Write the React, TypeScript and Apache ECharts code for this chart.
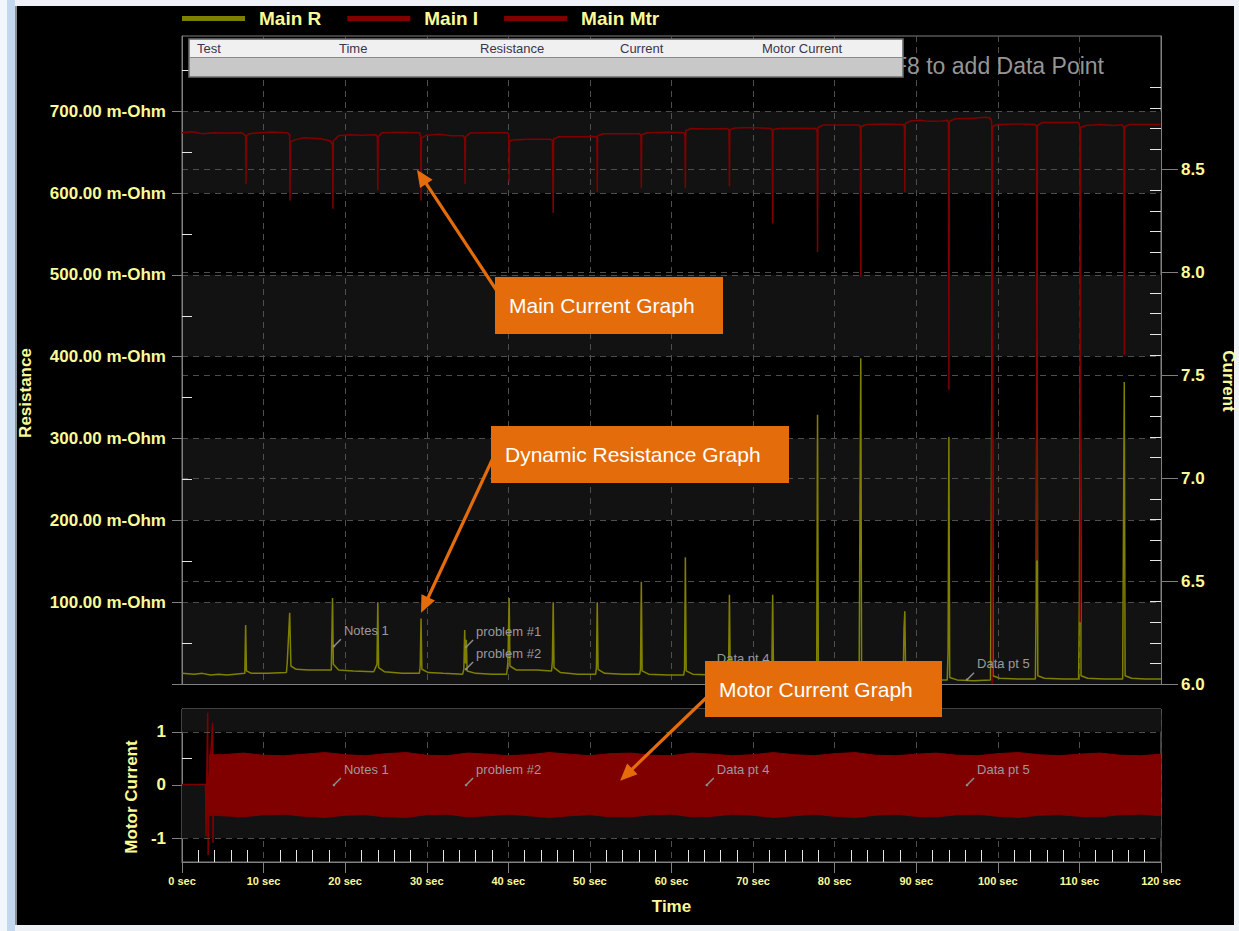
import React, { useEffect, useRef } from 'react';
import * as echarts from 'echarts';

const FONT = '"Liberation Sans", Arial, sans-serif';
const NARROW = '"Liberation Sans Narrow", "Liberation Sans", Arial, sans-serif';
const YELLOW = '#fafa96';
const OLIVE = '#808000';
const DARKRED = '#800000';
const ORANGE = '#e46c0a';
const AXIS_GRAY = '#808080';
const GRID_DASH = '#4e4e4e';
const BAND = '#121212';
const MINOR = '#e6e6e6';

const legendNames = ['Main R', 'Main I', 'Main Mtr'];
const tableHeaders = ['Test', 'Time', 'Resistance', 'Current', 'Motor Current'];

const timeMinorTicks = [2, 4, 6, 8, 12, 14, 16, 18, 22, 24, 26, 28, 32, 34, 36, 38, 42, 44, 46, 48, 52, 54, 56, 58, 62, 64, 66, 68, 72, 74, 76, 78, 82, 84, 86, 88, 92, 94, 96, 98, 102, 104, 106, 108, 112, 114, 116, 118];
const resistanceLabels = [100, 200, 300, 400, 500, 600, 700];
const resistanceTicks = [0, 100, 200, 300, 400, 500, 600, 700];
const resistanceMinorTicks = [50, 150, 250, 350, 450, 550, 650, 750];
const currentLabels = [6.0, 6.5, 7.0, 7.5, 8.0, 8.5];
const currentMinorTicks = [6.1, 6.2, 6.3, 6.4, 6.6, 6.7, 6.8, 6.9, 7.1, 7.2, 7.3, 7.4, 7.6, 7.7, 7.8, 7.9, 8.1, 8.2, 8.3, 8.4, 8.6, 8.7, 8.8, 8.9];
const motorLabels = [-1, 0, 1];
const motorMinorTicks = [-0.5, 0.5];

// Main R (m-Ohm) vs time (sec)
const mainR: [number, number][] = [
  [0, 13], [1.5, 12], [2.5, 13], [3.5, 11], [4.5, 12], [5.5, 11], [6.5, 12], [7.7, 13],
  [7.8, 72], [7.9, 16], [8.5, 13], [10.5, 13], [12.8, 14],
  [12.9, 26], [13.2, 87], [13.35, 22], [14.0, 18], [15.5, 17], [18.3, 17],
  [18.45, 105], [18.55, 24], [19.2, 17], [21, 16], [23.5, 15],
  [23.9, 24], [24.0, 100], [24.1, 20], [24.8, 15], [27, 13], [29.1, 13],
  [29.2, 22], [29.3, 80], [29.4, 18], [30.2, 14], [32, 13], [34.4, 12],
  [34.55, 18], [34.65, 66], [34.75, 25], [34.85, 54], [34.95, 16], [36, 13], [38, 12], [39.8, 12],
  [39.95, 27], [40.1, 105], [40.2, 22], [41, 17], [43.5, 17], [45.3, 16],
  [45.4, 28], [45.5, 100], [45.6, 20], [46.4, 14], [48.5, 12], [50.7, 12],
  [50.8, 20], [50.9, 100], [51.0, 18], [51.8, 13], [54, 12], [56.1, 12],
  [56.2, 18], [56.3, 125], [56.4, 16], [57.2, 12], [59.5, 11], [61.5, 11],
  [61.6, 18], [61.7, 155], [61.8, 16], [62.6, 12], [65, 11], [66.9, 11],
  [67.0, 20], [67.1, 109], [67.2, 16], [68, 12], [70, 11], [72.2, 11],
  [72.3, 18], [72.4, 109], [72.5, 15], [73.3, 11], [75.5, 10], [77.7, 10],
  [77.8, 30], [77.9, 329], [78.0, 14], [78.8, 10], [81, 10], [83.0, 10],
  [83.1, 206], [83.2, 398], [83.3, 12], [84.1, 9], [86.5, 8], [88.4, 8],
  [88.5, 68], [88.6, 89], [88.7, 10], [89.5, 6], [92, 5], [93.8, 5],
  [93.9, 40], [94.0, 302], [94.1, 8], [95, 5], [97, 4], [99.1, 5],
  [99.2, 176], [99.3, 520], [99.4, 10], [100.2, 7], [102.5, 6], [104.6, 6],
  [104.7, 100], [104.8, 417], [104.9, 10], [105.7, 7], [108, 6], [109.9, 6],
  [110.0, 105], [110.1, 389], [110.2, 10], [111, 7], [113, 6], [115.3, 6],
  [115.4, 188], [115.5, 369], [115.6, 10], [116.4, 7], [118, 6], [120, 6],
];

// Main I (current) vs time (sec)
const mainI: [number, number][] = [
  [0, 8.68], [1.2, 8.685], [2.5, 8.675], [4, 8.68], [5.5, 8.678], [7.3, 8.68],
  [7.6, 8.672], [7.8, 8.665], [7.85, 8.43], [7.9, 8.665], [8.3, 8.675], [9.5, 8.68], [11, 8.683], [12.9, 8.68],
  [13.2, 8.67], [13.24, 8.35], [13.3, 8.635], [13.8, 8.645], [15, 8.655], [17, 8.65], [18.2, 8.64], [18.45, 8.62],
  [18.5, 8.31], [18.55, 8.64], [19.2, 8.665], [20.5, 8.67], [22, 8.668], [23.8, 8.67],
  [23.95, 8.655], [24.0, 8.40], [24.05, 8.66], [24.5, 8.68], [26.5, 8.682], [29.1, 8.68],
  [29.25, 8.665], [29.3, 8.35], [29.35, 8.655], [30.0, 8.668], [31.5, 8.672], [33, 8.665], [34.5, 8.665],
  [34.65, 8.65], [34.7, 8.43], [34.75, 8.66], [35.3, 8.678], [37.5, 8.68], [39.9, 8.68],
  [40.05, 8.67], [40.1, 8.44], [40.15, 8.64], [40.6, 8.645], [42.5, 8.648], [45.2, 8.648],
  [45.4, 8.64], [45.5, 8.29], [45.55, 8.65], [46.2, 8.66], [48.5, 8.66], [50.7, 8.662],
  [50.85, 8.655], [50.9, 8.39], [50.95, 8.665], [51.6, 8.675], [54, 8.675], [56.1, 8.675],
  [56.25, 8.665], [56.3, 8.41], [56.35, 8.67], [57, 8.68], [59.5, 8.682], [61.5, 8.68],
  [61.65, 8.67], [61.7, 8.41], [61.75, 8.69], [62.4, 8.70], [64.5, 8.698], [66.9, 8.70],
  [67.05, 8.69], [67.1, 8.42], [67.15, 8.695], [67.8, 8.703], [70, 8.705], [72.2, 8.70],
  [72.35, 8.69], [72.4, 8.24], [72.45, 8.695], [73.1, 8.70], [75.5, 8.702], [77.7, 8.70],
  [77.85, 8.685], [77.9, 8.10], [77.95, 8.705], [78.6, 8.717], [80.5, 8.717], [83.0, 8.717],
  [83.15, 8.70], [83.2, 7.98], [83.25, 8.71], [83.9, 8.72], [86, 8.722], [88.4, 8.72],
  [88.55, 8.705], [88.6, 8.39], [88.65, 8.725], [89.3, 8.737], [90.5, 8.74], [91.5, 8.735], [93.2, 8.737], [93.8, 8.74],
  [93.95, 8.725], [94.0, 7.43], [94.05, 8.735], [94.8, 8.748], [97, 8.75], [98.5, 8.755], [99.1, 8.75],
  [99.25, 8.73], [99.3, 6.0], [99.35, 8.71], [100, 8.72], [102.5, 8.722], [104.6, 8.72],
  [104.75, 8.705], [104.8, 6.6], [104.85, 8.715], [105.5, 8.73], [107.5, 8.73], [109.9, 8.73],
  [110.05, 8.705], [110.1, 6.3], [110.15, 8.705], [110.8, 8.715], [112.5, 8.72], [114.2, 8.715], [115.3, 8.718],
  [115.45, 8.70], [115.5, 7.60], [115.55, 8.71], [116.2, 8.72], [118, 8.72], [120, 8.72],
];

// Motor current: start-up trace, then envelope of the AC signal
const motorStart: [number, number][] = [
  [0, 0.01], [2.85, 0.01], [2.9, -0.15], [2.95, -0.97], [3.0, -0.2], [3.15, 1.36], [3.2, -1.32],
  [3.3, 0.0], [3.75, 1.17], [3.8, -1.09], [3.9, 0.0],
];
const motorTimes = [3.3, 5, 7.5, 10, 12.5, 15, 17.5, 20, 22.5, 25, 27.5, 30, 32.5, 35, 37.5, 40, 42.5, 45, 47.5, 50, 52.5, 55, 57.5, 60, 62.5, 65, 67.5, 70, 72.5, 75, 77.5, 80, 82.5, 85, 87.5, 90, 92.5, 95, 97.5, 100, 102.5, 105, 107.5, 110, 112.5, 115, 117.5, 120];
const motorUpper = [0.57, 0.57, 0.60, 0.56, 0.55, 0.58, 0.61, 0.57, 0.55, 0.59, 0.61, 0.56, 0.55, 0.60, 0.58, 0.55, 0.57, 0.61, 0.58, 0.55, 0.59, 0.60, 0.56, 0.55, 0.60, 0.58, 0.55, 0.57, 0.61, 0.57, 0.55, 0.59, 0.61, 0.56, 0.55, 0.58, 0.60, 0.56, 0.55, 0.59, 0.61, 0.57, 0.55, 0.58, 0.60, 0.56, 0.55, 0.58];
const motorLower = [-0.57, -0.58, -0.60, -0.56, -0.55, -0.59, -0.61, -0.57, -0.56, -0.60, -0.61, -0.56, -0.55, -0.60, -0.58, -0.55, -0.58, -0.61, -0.58, -0.56, -0.60, -0.60, -0.56, -0.55, -0.60, -0.59, -0.55, -0.57, -0.61, -0.58, -0.55, -0.59, -0.61, -0.57, -0.55, -0.59, -0.60, -0.56, -0.55, -0.59, -0.61, -0.57, -0.56, -0.59, -0.60, -0.56, -0.55, -0.58];

// Data point notes (time, value)
const topNotes = [
  { text: 'Notes 1', t: 18.5, v: 45 },
  { text: 'problem #1', t: 34.7, v: 44 },
  { text: 'problem #2', t: 34.7, v: 17 },
  { text: 'Data pt 4', t: 64.2, v: 11 },
  { text: 'Data pt 5', t: 96.1, v: 4 },
];
const bottomNotes = [
  { text: 'Notes 1', t: 18.5, v: -0.02 },
  { text: 'problem #2', t: 34.7, v: -0.02 },
  { text: 'Data pt 4', t: 64.2, v: -0.02 },
  { text: 'Data pt 5', t: 96.1, v: -0.02 },
];

// Callouts: box in pixels, arrow target in data coords
const callouts = [
  { text: 'Main Current Graph', box: [495, 277, 228, 57], from: [497, 291], target: { t: 28.8, v: 8.5, axis: 'current' } },
  { text: 'Dynamic Resistance Graph', box: [491, 426, 298, 57], from: [493, 458], target: { t: 29.3, v: 87, axis: 'resistance' } },
  { text: 'Motor Current Graph', box: [705, 661, 237, 56], from: [707, 697], target: { t: 53.7, v: 0.08, axis: 'motor' } },
];

const labelStyle = { color: YELLOW, fontFamily: FONT, fontWeight: 'bold' as const, fontSize: 17 };
const dashed = { show: true, lineStyle: { color: GRID_DASH, type: [6, 5] as number[], width: 1 } };

function buildOption(): any {
  return {
    animation: false,
    backgroundColor: '#000000',
    legend: {
      data: legendNames,
      left: 182,
      top: 9,
      padding: 0,
      icon: 'rect',
      itemWidth: 63,
      itemHeight: 5,
      itemGap: 26,
      selectedMode: false,
      textStyle: { color: YELLOW, fontFamily: FONT, fontWeight: 'bold', fontSize: 19, padding: [0, 0, 0, 9] },
    },
    grid: [
      { left: 182, top: 36, width: 979, height: 648, show: true, borderColor: AXIS_GRAY, borderWidth: 1, backgroundColor: 'transparent', outerBoundsMode: 'none' },
      { left: 182, top: 709, width: 979, height: 153, show: true, borderColor: AXIS_GRAY, borderWidth: 1, backgroundColor: 'transparent', outerBoundsMode: 'none' },
    ],
    xAxis: [
      {
        gridIndex: 0, type: 'value', min: 0, max: 120, interval: 10, position: 'bottom',
        axisLine: { show: true, onZero: false, lineStyle: { color: AXIS_GRAY } },
        axisTick: { show: false }, axisLabel: { show: false }, splitLine: dashed,
      },
      {
        gridIndex: 1, type: 'value', min: 0, max: 120, interval: 10, position: 'bottom',
        axisLine: { show: true, onZero: false, lineStyle: { color: AXIS_GRAY } },
        axisTick: { show: true, length: 11, lineStyle: { color: AXIS_GRAY } },
        axisLabel: { color: YELLOW, fontFamily: NARROW, fontWeight: 'bold', fontSize: 11, margin: 13, formatter: (v: number) => v + ' sec' },
        splitLine: dashed,
        name: 'Time', nameLocation: 'middle', nameGap: 36,
        nameTextStyle: { color: YELLOW, fontFamily: FONT, fontWeight: 'bold', fontSize: 17 },
      },
      {
        gridIndex: 1, type: 'value', min: 0, max: 120, position: 'bottom',
        axisLine: { show: false, onZero: false },
        axisTick: { show: true, inside: true, length: 12, customValues: timeMinorTicks, lineStyle: { color: MINOR } },
        axisLabel: { show: false }, splitLine: { show: false },
      },
    ],
    yAxis: [
      {
        gridIndex: 0, type: 'value', position: 'left', min: 0, max: 792, interval: 100,
        axisLine: { show: true, onZero: false, lineStyle: { color: AXIS_GRAY } },
        axisTick: { show: true, length: 10, customValues: resistanceTicks, lineStyle: { color: AXIS_GRAY } },
        axisLabel: { ...labelStyle, margin: 16, customValues: resistanceLabels, formatter: (v: number) => v.toFixed(2) + ' m-Ohm' },
        splitLine: dashed,
        splitArea: { show: true, areaStyle: { color: [BAND, 'rgba(0,0,0,0)'] } },
      },
      {
        gridIndex: 0, type: 'value', position: 'left', min: 0, max: 792,
        axisLine: { show: false, onZero: false },
        axisTick: { show: true, inside: true, length: 10, customValues: resistanceMinorTicks, lineStyle: { color: MINOR } },
        axisLabel: { show: false }, splitLine: { show: false },
      },
      {
        gridIndex: 0, type: 'value', position: 'right', min: 6, max: 9.15, interval: 0.5,
        axisLine: { show: true, onZero: false, lineStyle: { color: AXIS_GRAY } },
        axisTick: { show: true, length: 17, customValues: currentLabels, lineStyle: { color: AXIS_GRAY } },
        axisLabel: { ...labelStyle, margin: 20, customValues: currentLabels, formatter: (v: number) => v.toFixed(1) },
        splitLine: dashed,
      },
      {
        gridIndex: 0, type: 'value', position: 'right', min: 6, max: 9.15,
        axisLine: { show: false, onZero: false },
        axisTick: { show: true, inside: true, length: 11, customValues: currentMinorTicks, lineStyle: { color: MINOR } },
        axisLabel: { show: false }, splitLine: { show: false },
      },
      {
        gridIndex: 1, type: 'value', position: 'left', min: -1.45, max: 1.43,
        axisLine: { show: true, onZero: false, lineStyle: { color: AXIS_GRAY } },
        axisTick: { show: true, length: 10, customValues: motorLabels, lineStyle: { color: AXIS_GRAY } },
        axisLabel: { ...labelStyle, margin: 16, customValues: motorLabels, formatter: (v: number) => String(v) },
        splitLine: { show: false },
      },
      {
        gridIndex: 1, type: 'value', position: 'left', min: -1.45, max: 1.43,
        axisLine: { show: false, onZero: false },
        axisTick: { show: true, inside: true, length: 10, customValues: motorMinorTicks, lineStyle: { color: MINOR } },
        axisLabel: { show: false }, splitLine: { show: false },
      },
    ],
    series: [
      {
        name: 'Main R', type: 'line', xAxisIndex: 0, yAxisIndex: 0, data: mainR, symbol: 'none',
        color: OLIVE, lineStyle: { width: 1.5, color: OLIVE }, z: 3,
      },
      {
        name: 'Main I', type: 'line', xAxisIndex: 0, yAxisIndex: 2, data: mainI, symbol: 'none',
        color: DARKRED, lineStyle: { width: 1.5, color: DARKRED }, z: 3,
      },
      {
        name: 'Main Mtr start', type: 'line', xAxisIndex: 1, yAxisIndex: 4, data: motorStart, symbol: 'none',
        color: DARKRED, lineStyle: { width: 1.5, color: DARKRED }, z: 3,
        markArea: {
          silent: true, itemStyle: { color: BAND },
          data: [[{ yAxis: 1 }, { yAxis: 1.43 }], [{ yAxis: -1 }, { yAxis: 0 }]],
        },
        markLine: {
          silent: true, symbol: ['none', 'none'], label: { show: false },
          lineStyle: { color: GRID_DASH, type: [6, 5], width: 1 },
          data: [{ yAxis: 1 }, { yAxis: -1 }],
        },
      },
      {
        name: 'Main Mtr', type: 'line', xAxisIndex: 1, yAxisIndex: 4, symbol: 'none',
        data: motorTimes.map((t, i) => [t, motorUpper[i]]),
        color: DARKRED, lineStyle: { width: 1, color: DARKRED }, areaStyle: { color: DARKRED, opacity: 1 }, z: 2,
      },
      {
        name: 'Main Mtr lower', type: 'line', xAxisIndex: 1, yAxisIndex: 4, symbol: 'none',
        data: motorTimes.map((t, i) => [t, motorLower[i]]),
        color: DARKRED, lineStyle: { width: 1, color: DARKRED }, areaStyle: { color: DARKRED, opacity: 1 }, z: 2,
      },
    ],
  };
}

function buildGraphics(chart: echarts.ECharts): any[] {
  const g: any[] = [];
  // window frame strips
  g.push({ type: 'rect', shape: { x: 0, y: 0, width: 1239, height: 6 }, style: { fill: '#eef1f5' }, z: 1 });
  g.push({ type: 'rect', shape: { x: 0, y: 925, width: 1239, height: 6 }, style: { fill: '#eef1f5' }, z: 1 });
  g.push({ type: 'rect', shape: { x: 0, y: 0, width: 7, height: 931 }, style: { fill: '#f2f5f9' }, z: 1 });
  g.push({ type: 'rect', shape: { x: 7, y: 0, width: 8, height: 931 }, style: { fill: '#c3d7ee' }, z: 1 });
  g.push({ type: 'rect', shape: { x: 15, y: 6, width: 2, height: 919 }, style: { fill: '#8a8f96' }, z: 1 });
  g.push({ type: 'rect', shape: { x: 1234, y: 0, width: 5, height: 931 }, style: { fill: '#eef1f5' }, z: 1 });

  // axis titles
  g.push({ type: 'text', x: 25, y: 393, rotation: Math.PI / 2, style: { text: 'Resistance', fill: YELLOW, font: `bold 17px ${FONT}`, textAlign: 'center', textVerticalAlign: 'middle' }, z: 10 });
  g.push({ type: 'text', x: 1228, y: 381, rotation: -Math.PI / 2, style: { text: 'Current', fill: YELLOW, font: `bold 17px ${FONT}`, textAlign: 'center', textVerticalAlign: 'middle' }, z: 10 });
  g.push({ type: 'text', x: 131, y: 797, rotation: Math.PI / 2, style: { text: 'Motor Current', fill: YELLOW, font: `bold 17px ${FONT}`, textAlign: 'center', textVerticalAlign: 'middle' }, z: 10 });

  // notes
  const addNote = (text: string, p: number[]) => {
    const [px, py] = p;
    g.push({ type: 'line', shape: { x1: px + 1, y1: py - 1, x2: px + 8, y2: py - 8 }, style: { stroke: '#8c8c8c', lineWidth: 1.5 }, z: 50 });
    g.push({ type: 'circle', shape: { cx: px + 1, cy: py - 1, r: 1.3 }, style: { fill: '#8c8c8c' }, z: 50 });
    g.push({ type: 'text', x: px + 11, y: py - 17, style: { text, fill: '#9a9a9a', font: `13px ${FONT}`, textAlign: 'left', textVerticalAlign: 'middle' }, z: 50 });
  };
  topNotes.forEach((n) => addNote(n.text, chart.convertToPixel({ xAxisIndex: 0, yAxisIndex: 0 } as any, [n.t, n.v]) as number[]));
  bottomNotes.forEach((n) => addNote(n.text, chart.convertToPixel({ xAxisIndex: 1, yAxisIndex: 4 } as any, [n.t, n.v]) as number[]));

  // hint text and table
  g.push({ type: 'text', x: 893, y: 66, style: { text: 'F8 to add Data Point', fill: '#959595', font: `23px ${FONT}`, textAlign: 'left', textVerticalAlign: 'middle' }, z: 55 });
  g.push({ type: 'rect', shape: { x: 189, y: 39, width: 714, height: 38 }, style: { fill: '#c8c8c8', stroke: '#6e6e6e', lineWidth: 1.5 }, z: 60 });
  g.push({ type: 'rect', shape: { x: 190, y: 40, width: 712, height: 17 }, style: { fill: '#f0f0f0' }, z: 61 });
  g.push({ type: 'line', shape: { x1: 190, y1: 57.5, x2: 902, y2: 57.5 }, style: { stroke: '#8a8a8a', lineWidth: 1 }, z: 61 });
  const headerX = [197, 339, 480, 620, 762];
  tableHeaders.forEach((h, i) => {
    g.push({ type: 'text', x: headerX[i], y: 48.5, style: { text: h, fill: '#3a3550', font: `13px ${FONT}`, textAlign: 'left', textVerticalAlign: 'middle' }, z: 62 });
  });

  // callouts
  const axisFinder: any = {
    current: { xAxisIndex: 0, yAxisIndex: 2 },
    resistance: { xAxisIndex: 0, yAxisIndex: 0 },
    motor: { xAxisIndex: 1, yAxisIndex: 4 },
  };
  callouts.forEach((c) => {
    const [bx, by, bw, bh] = c.box;
    const tip = chart.convertToPixel(axisFinder[c.target.axis], [c.target.t, c.target.v]) as number[];
    const [sx, sy] = c.from;
    const dx = tip[0] - sx, dy = tip[1] - sy;
    const len = Math.sqrt(dx * dx + dy * dy);
    const ux = dx / len, uy = dy / len;
    const L = 17, W = 7.5;
    const baseX = tip[0] - ux * L, baseY = tip[1] - uy * L;
    g.push({ type: 'line', shape: { x1: sx, y1: sy, x2: baseX + ux * 2, y2: baseY + uy * 2 }, style: { stroke: ORANGE, lineWidth: 3.2 }, z: 100 });
    g.push({
      type: 'polygon',
      shape: { points: [[tip[0], tip[1]], [baseX - uy * W, baseY + ux * W], [baseX + uy * W, baseY - ux * W]] },
      style: { fill: ORANGE }, z: 100,
    });
    g.push({ type: 'rect', shape: { x: bx, y: by, width: bw, height: bh }, style: { fill: ORANGE }, z: 101 });
    g.push({ type: 'text', x: bx + 14, y: by + bh / 2, style: { text: c.text, fill: '#ffffff', font: `21px ${FONT}`, textAlign: 'left', textVerticalAlign: 'middle' }, z: 102 });
  });
  return g;
}

export default function App() {
  const ref = useRef<HTMLDivElement>(null);
  useEffect(() => {
    const el = ref.current;
    if (!el) return;
    const chart = echarts.init(el, undefined, { renderer: 'svg' });
    chart.setOption(buildOption());
    chart.setOption({ graphic: buildGraphics(chart) });
    return () => chart.dispose();
  }, []);
  return <div ref={ref} style={{ position: 'absolute', left: 0, top: 0, width: 1239, height: 931 }} />;
}
